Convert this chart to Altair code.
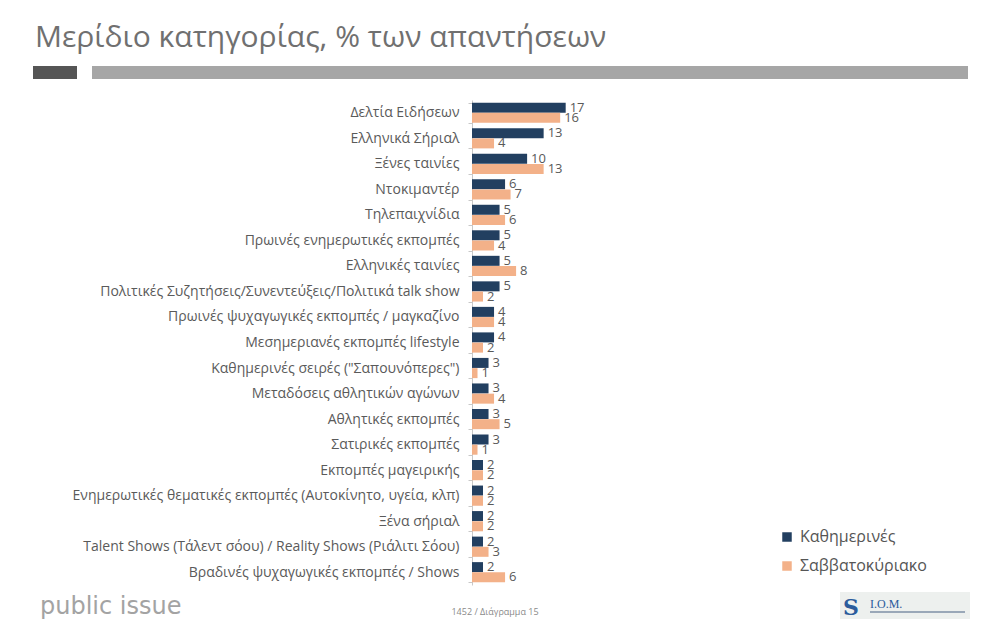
import altair as alt
import pandas as pd

categories = [
    "Δελτία Ειδήσεων",
    "Ελληνικά Σήριαλ",
    "Ξένες ταινίες",
    "Ντοκιμαντέρ",
    "Τηλεπαιχνίδια",
    "Πρωινές  ενημερωτικές εκπομπές",
    "Ελληνικές ταινίες",
    "Πολιτικές Συζητήσεις/Συνεντεύξεις/Πολιτικά talk show",
    "Πρωινές ψυχαγωγικές εκπομπές / μαγκαζίνο",
    "Μεσημεριανές εκπομπές lifestyle",
    "Καθημερινές σειρές (\"Σαπουνόπερες\")",
    "Μεταδόσεις αθλητικών αγώνων",
    "Αθλητικές εκπομπές",
    "Σατιρικές εκπομπές",
    "Εκπομπές μαγειρικής",
    "Ενημερωτικές θεματικές εκπομπές (Αυτοκίνητο, υγεία, κλπ)",
    "Ξένα σήριαλ",
    "Talent Shows (Τάλεντ σόου) / Reality Shows (Ριάλιτι Σόου)",
    "Βραδινές ψυχαγωγικές εκπομπές / Shows",
]
weekdays = [17, 13, 10, 6, 5, 5, 5, 5, 4, 4, 3, 3, 3, 3, 2, 2, 2, 2, 2]
weekend = [16, 4, 13, 7, 6, 4, 8, 2, 4, 2, 1, 4, 5, 1, 2, 2, 2, 3, 6]
series = ["Καθημερινές", "Σαββατοκύριακο"]
colors = ["#223F60", "#F3B189"]

title_text = "Μερίδιο κατηγορίας, % των απαντήσεων"
footer_left = "public issue"
footer_mid = "1452 / Διάγραμμα 15"
logo_text = "I.O.M."

rows = []
for c, a, b in zip(categories, weekdays, weekend):
    rows.append({"cat": c, "series": series[0], "val": a})
    rows.append({"cat": c, "series": series[1], "val": b})
df = pd.DataFrame(rows)

W, H = 496, 485

y_enc = alt.Y("cat:N", sort=categories,
              scale=alt.Scale(paddingInner=0.2, paddingOuter=0.1),
              axis=alt.Axis(title=None, labelLimit=600, labelFontSize=14,
                            labelColor="#5a5a5a", labelFont="Open Sans",
                            labelPadding=9, domainColor="#C8C8C8",
                            tickColor="#C8C8C8", tickSize=4, tickBand="extent"))
x_enc = alt.X("val:Q", scale=alt.Scale(domain=[0, 90]), axis=None)
yoff = alt.YOffset("series:N", sort=series, scale=alt.Scale(paddingInner=0, paddingOuter=0))

bars = alt.Chart(df).mark_bar(size=10).encode(
    y=y_enc, x=x_enc, yOffset=yoff,
    color=alt.Color("series:N", sort=series,
                    scale=alt.Scale(domain=series, range=colors),
                    legend=alt.Legend(title=None, orient="none", legendX=307, legendY=429,
                                      symbolType="square", symbolSize=90,
                                      symbolStrokeWidth=0,
                                      labelFontSize=16, labelColor="#555555",
                                      labelFont="Open Sans", rowPadding=13,
                                      labelOffset=5)),
)

labels = alt.Chart(df).mark_text(align="left", baseline="middle", dx=4,
                                 fontSize=13, color="#595959", font="Open Sans").encode(
    y=alt.Y("cat:N", sort=categories), x="val:Q", yOffset=alt.YOffset("series:N", sort=series),
    text="val:Q",
)

def txt(s, x, y, size, color, font="Open Sans", weight="normal", align="left"):
    return alt.Chart(pd.DataFrame({"t": [s]})).mark_text(
        align=align, baseline="alphabetic", fontSize=size, color=color, font=font,
        fontWeight=weight).encode(text="t:N", x=alt.value(x), y=alt.value(y))

def box(x1, x2, y1, y2, color):
    return alt.Chart(pd.DataFrame({"a": [0]})).mark_rect(color=color).encode(
        x=alt.value(x1), x2=alt.value(x2), y=alt.value(y1), y2=alt.value(y2))

ox, oy = 472, 100
title = txt(title_text, 35 - ox, 47 - oy, 30, "#707070", font="Open Sans")
dark = box(33 - ox, 77 - ox, 66 - oy, 79 - oy, "#555555")
light = box(92 - ox, 968 - ox, 66 - oy, 79 - oy, "#A6A6A6")
foot1 = txt(footer_left, 40 - ox, 614 - oy, 24, "#a3a3a3", font="DejaVu Sans")
foot2 = txt(footer_mid, 495 - ox, 615 - oy, 9, "#8a8a8a", align="center")
logo_bg = box(840 - ox, 970 - ox, 592 - oy, 619 - oy, "#EDF0EE")
logo_sym = txt("S", 843 - ox, 615 - oy, 22, "#2B5C9C", font="DejaVu Serif", weight="bold")
logo_t = txt(logo_text, 870 - ox, 608 - oy, 12, "#2B5C9C", font="Liberation Serif")
logo_line = box(870 - ox, 965 - ox, 611 - oy, 613 - oy, "#9AA8B8")

chart = alt.layer(
    dark, light, title, foot1, foot2, logo_bg, logo_sym, logo_t, logo_line, bars, labels
).properties(
    width=W, height=H,
    autosize=alt.AutoSizeParams(type="none"),
    padding={"left": ox, "top": oy, "right": 993 - ox - W, "bottom": 624 - oy - H},
    background="#FFFFFF",
).configure_view(stroke=None)

chart.save("out.html", embed_options={"renderer": "svg", "actions": False})
